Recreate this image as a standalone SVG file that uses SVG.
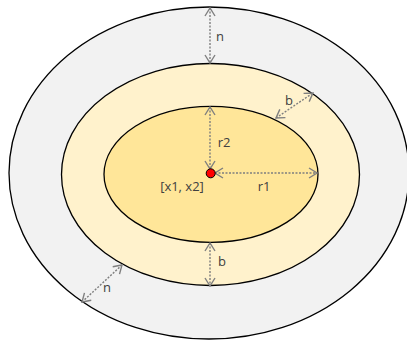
<svg xmlns="http://www.w3.org/2000/svg" width="407" height="341" viewBox="0 0 407 341">
<defs>
<marker id="ah" viewBox="0 0 10 12" refX="9" refY="6" markerWidth="10" markerHeight="12" markerUnits="userSpaceOnUse" orient="auto-start-reverse">
<path d="M1,1 L9,6 L1,11" fill="none" stroke="#7f7f7f" stroke-width="1.4"/>
</marker>
<style>
.ring{stroke:#000;stroke-width:1.3}
.dim{fill:none;stroke:#7f7f7f;stroke-width:1.4;stroke-dasharray:2,1.5;marker-start:url(#ah);marker-end:url(#ah)}
text{font-family:"Open Sans","Liberation Sans",sans-serif;font-size:13px;fill:#404040}
</style>
</defs>
<rect width="407" height="341" fill="#fff"/>
<g id="outer"><ellipse class="ring" cx="209" cy="173" rx="200" ry="166" fill="#f2f2f2"/></g>
<g id="middle"><ellipse class="ring" cx="210.5" cy="174.5" rx="149" ry="111" fill="#fff2cc"/></g>
<g id="inner"><ellipse class="ring" cx="211" cy="174.3" rx="107" ry="68" fill="#ffe699"/></g>
<g id="connectors">
<line class="dim" x1="210" y1="8" x2="210" y2="63"/>
<line class="dim" x1="276" y1="118" x2="313" y2="93"/>
<line class="dim" x1="210" y1="107" x2="210" y2="169"/>
<line class="dim" x1="215" y1="173" x2="317" y2="173"/>
<line class="dim" x1="210" y1="243" x2="210" y2="286"/>
<line class="dim" x1="122" y1="265" x2="82" y2="302"/>
</g>
<g id="center"><circle cx="210.7" cy="173.3" r="4.5" fill="#ff0000" stroke="#000" stroke-width="1"/></g>
<g id="labels">
<text x="220" y="41" text-anchor="middle">n</text>
<text x="289" y="105" text-anchor="middle">b</text>
<text x="224" y="147" text-anchor="middle">r2</text>
<text x="264" y="191" text-anchor="middle">r1</text>
<text x="182" y="191" text-anchor="middle">[x1, x2]</text>
<text x="222" y="266" text-anchor="middle">b</text>
<text x="107" y="292" text-anchor="middle">n</text>
</g>
</svg>
